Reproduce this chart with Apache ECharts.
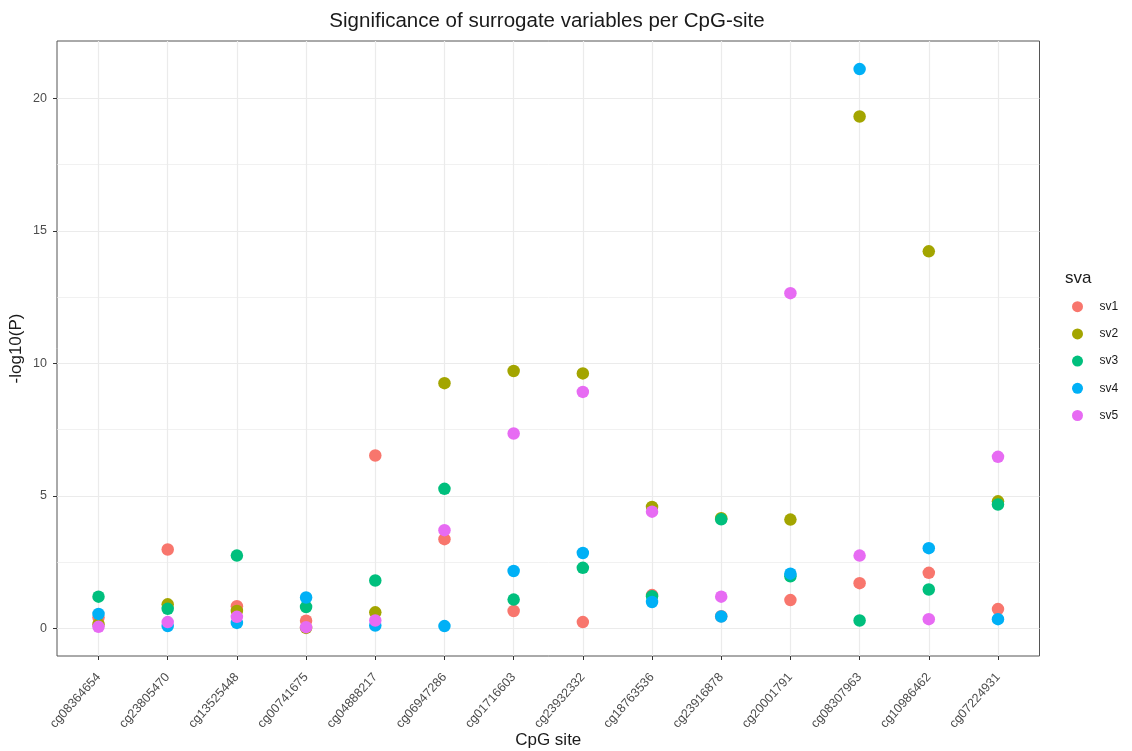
<!DOCTYPE html>
<html>
<head>
<meta charset="utf-8">
<script src="https://cdn.jsdelivr.net/npm/echarts@6/dist/echarts.min.js"></script>
<style>
  html, body { margin: 0; padding: 0; background: #ffffff; }
  #chart { width: 1132px; height: 751px; }
</style>
</head>
<body>
<div id="chart"></div>
<script>
// CpG sites along the x axis
const categories = [
  'cg08364654', 'cg23805470', 'cg13525448', 'cg00741675', 'cg04888217',
  'cg06947286', 'cg01716603', 'cg23932332', 'cg18763536', 'cg23916878',
  'cg20001791', 'cg08307963', 'cg10986462', 'cg07224931'
];

// -log10(P) per surrogate variable, one value per CpG site
const sv1 = [0.40, 2.97, 0.83, 0.28, 6.52, 3.36, 0.65, 0.23, 1.25, 0.45, 1.06, 1.70, 2.09, 0.72];
const sv2 = [0.15, 0.90, 0.65, 0.01, 0.60, 9.25, 9.71, 9.62, 4.58, 4.15, 4.10, 19.32, 14.23, 4.79];
const sv3 = [1.19, 0.73, 2.74, 0.80, 1.80, 5.26, 1.08, 2.28, 1.21, 4.11, 1.96, 0.29, 1.46, 4.67];
const sv4 = [0.54, 0.08, 0.20, 1.16, 0.10, 0.08, 2.16, 2.84, 0.99, 0.44, 2.06, 21.11, 3.02, 0.34];
const sv5 = [0.05, 0.23, 0.43, 0.04, 0.29, 3.70, 7.35, 8.92, 4.40, 1.19, 12.65, 2.74, 0.34, 6.47];

const seriesNames = ['sv1', 'sv2', 'sv3', 'sv4', 'sv5'];
const seriesValues = [sv1, sv2, sv3, sv4, sv5];
const palette = ['#F8766D', '#A3A500', '#00BF7D', '#00B0F6', '#E76BF3'];

const yMajorTicks = [0, 5, 10, 15, 20];
const yMinorTicks = [2.5, 7.5, 12.5, 17.5];
const xTicks = categories.map((c, i) => i);

const textGrey = '#4D4D4D';
const gridGrey = '#EBEBEB';
const fontFamily = 'Liberation Sans, Arial, sans-serif';

const chart = echarts.init(document.getElementById('chart'), null, { renderer: 'canvas' });

// one scatter layer per surrogate variable, later layers drawn on top
const series = seriesNames.map((name, k) => ({
  name: name,
  type: 'scatter',
  symbol: 'circle',
  symbolSize: 12.5,
  itemStyle: { color: palette[k], opacity: 1 },
  emphasis: { disabled: true },
  data: categories.map((c, i) => [i, seriesValues[k][i]])
}));

chart.setOption({
  animation: false,
  backgroundColor: '#ffffff',
  textStyle: { fontFamily: fontFamily },
  title: [
    {
      text: 'Significance of surrogate variables per CpG-site',
      left: 542, top: 6, textAlign: 'center',
      textStyle: { fontSize: 20.5, fontWeight: 'normal', color: '#1A1A1A', fontFamily: fontFamily }
    },
    {
      text: 'sva',
      left: 1060, top: 265,
      textStyle: { fontSize: 17, fontWeight: 'normal', color: '#1A1A1A', fontFamily: fontFamily }
    }
  ],
  legend: {
    orient: 'vertical',
    left: 1067, top: 295.7,
    itemWidth: 34, itemHeight: 11, itemGap: 15.2,
    icon: 'circle',
    data: seriesNames,
    textStyle: { fontSize: 12, color: '#1A1A1A', fontFamily: fontFamily },
    selectedMode: false
  },
  grid: {
    left: 57, right: 92.5, top: 41, bottom: 95,
    outerBoundsMode: 'none',
    containLabel: false,
    show: true, borderColor: '#555555', borderWidth: 1, backgroundColor: 'transparent'
  },
  xAxis: {
    type: 'value',
    min: -0.6, max: 13.6,
    name: 'CpG site', nameLocation: 'middle', nameGap: 76, nameMoveOverlap: false,
    nameTextStyle: { fontSize: 17, color: '#1A1A1A', fontFamily: fontFamily },
    axisLine: { show: false, onZero: false },
    axisTick: { show: true, length: 4, lineStyle: { color: '#333333' }, customValues: xTicks },
    axisLabel: {
      customValues: xTicks,
      rotate: 48, margin: 19,
      fontSize: 12.5, color: textGrey, fontFamily: fontFamily,
      formatter: v => categories[Math.round(v)]
    },
    splitLine: { show: true, lineStyle: { color: gridGrey, width: 1.2 } }
  },
  yAxis: [
    {
      type: 'value',
      min: -1.05, max: 22.17,
      name: '-log10(P)', nameLocation: 'middle', nameGap: 32, nameRotate: 90, nameMoveOverlap: false,
      nameTextStyle: { fontSize: 17, color: '#1A1A1A', fontFamily: fontFamily },
      axisLine: { show: false, onZero: false },
      axisTick: { show: true, length: 4, lineStyle: { color: '#333333' }, customValues: yMajorTicks },
      axisLabel: { customValues: yMajorTicks, fontSize: 12.5, color: textGrey, margin: 10, fontFamily: fontFamily },
      splitLine: { show: true, lineStyle: { color: gridGrey, width: 1.2 } }
    },
    {
      type: 'value',
      min: -1.05, max: 22.17,
      position: 'left',
      axisLine: { show: false, onZero: false },
      axisTick: { show: false, customValues: yMinorTicks },
      axisLabel: { show: false, customValues: yMinorTicks },
      splitLine: { show: true, lineStyle: { color: gridGrey, width: 0.7 } }
    }
  ],
  series: series
});
</script>
</body>
</html>
